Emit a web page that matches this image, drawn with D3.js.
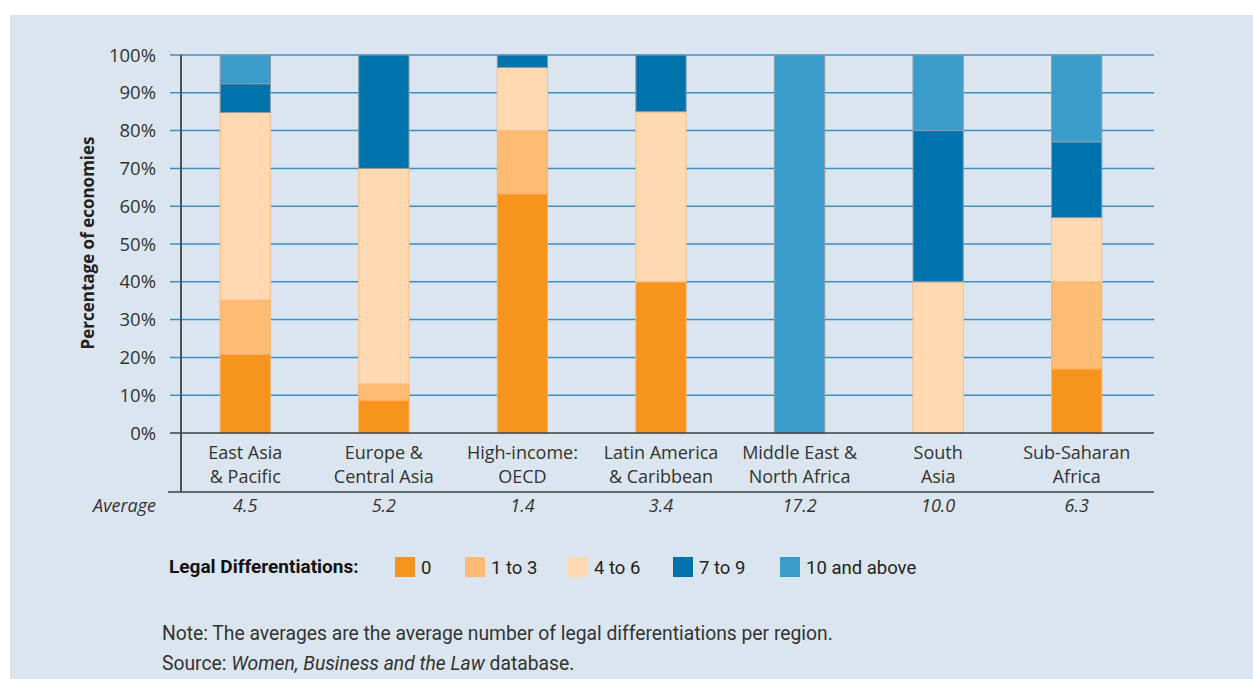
<!DOCTYPE html>
<html>
<head>
  <meta charset="UTF-8">
  <style>
    body { margin: 0; background: #fff; }
    svg { display: block; }
  </style>
</head>
<body>
<svg></svg>
<script src="https://d3js.org/d3.v7.min.js"></script>
<script>

// data (percent of economies per region)
const regions = ["East Asia|& Pacific", "Europe &|Central Asia", "High-income:|OECD",
  "Latin America|& Caribbean", "Middle East &|North Africa", "South|Asia", "Sub-Saharan|Africa"];
const averages = ["4.5", "5.2", "1.4", "3.4", "17.2", "10.0", "6.3"];
const groups = ["0", "1 to 3", "4 to 6", "7 to 9", "10 and above"];
const zero = [20.8, 8.7, 63.3, 40, 0, 0, 17.0];
const oneToThree = [14.4, 4.3, 16.7, 0, 0, 0, 23.0];
const fourToSix = [49.6, 57.0, 16.7, 45, 0, 40, 17.0];
const sevenToNine = [7.6, 30.0, 3.3, 15, 0, 40, 20.0];
const tenPlus = [7.6, 0, 0, 0, 100, 20, 23.0];
const yTicks = [0, 10, 20, 30, 40, 50, 60, 70, 80, 90, 100];

const colors = ["#f7941d", "#fdbb74", "#fed9b1", "#0072ac", "#3a9cca"];
const edges = ["#fbb26a", "#fbb26a", "#fcbf80", "#8e9aa6", "#8e9aa6"];

const width = 1253, height = 679;
const svg = d3.select("svg").attr("width", width).attr("height", height);
const font = "'Open Sans', sans-serif";
const narrow = "'Roboto', sans-serif";

// panel
svg.append("rect").attr("x", 10).attr("y", 15).attr("width", width - 10).attr("height", height - 15)
  .attr("fill", "#dae5f0");

const x = d3.scaleBand().domain(regions).range([176, 1146]).paddingInner(0.63).paddingOuter(0.315);
const y = d3.scaleLinear().domain([0, 100]).range([433, 55]);

// gridlines
svg.append("g").selectAll("line").data(yTicks.slice(1)).join("line")
  .attr("x1", 170).attr("x2", 1154)
  .attr("y1", d => y(d)).attr("y2", d => y(d))
  .attr("stroke", "#3d8fc4").attr("stroke-width", 1.5);

// y labels
svg.append("g").selectAll("text").data(yTicks).join("text")
  .attr("x", 156).attr("y", d => y(d) + 6.5)
  .attr("text-anchor", "end")
  .attr("font-family", font).attr("font-size", 18.5).attr("fill", "#333")
  .text(d => d + "%");

svg.append("text")
  .attr("transform", "translate(94,243) rotate(-90)")
  .attr("text-anchor", "middle")
  .attr("font-family", font).attr("font-size", 17).attr("font-weight", "bold").attr("fill", "#222")
  .text("Percentage of economies");

// stacked bars
const rows = regions.map((r, i) => {
  const o = { region: r };
  [zero, oneToThree, fourToSix, sevenToNine, tenPlus].forEach((s, k) => o[groups[k]] = s[i]);
  return o;
});
const stack = d3.stack().keys(groups)(rows);

svg.append("g").selectAll("g").data(stack).join("g")
  .attr("fill", (d, k) => colors[k])
  .attr("stroke", (d, k) => edges[k])
  .attr("stroke-width", 1)
  .selectAll("rect").data(d => d.filter(v => v[1] - v[0] > 0)).join("rect")
  .attr("x", d => x(d.data.region) + 0.5)
  .attr("width", x.bandwidth() - 1)
  .attr("y", d => y(d[1]))
  .attr("height", d => y(d[0]) - y(d[1]));

// axis lines
svg.append("line").attr("x1", 181).attr("x2", 181).attr("y1", 55).attr("y2", 492)
  .attr("stroke", "#4d5257").attr("stroke-width", 2);
svg.append("line").attr("x1", 170).attr("x2", 1154).attr("y1", 433).attr("y2", 433)
  .attr("stroke", "#3b3f44").attr("stroke-width", 1.5);
svg.append("line").attr("x1", 168).attr("x2", 1154).attr("y1", 492).attr("y2", 492)
  .attr("stroke", "#3b3f44").attr("stroke-width", 1.5);

// category labels
const cat = svg.append("g").selectAll("text").data(regions).join("text")
  .attr("text-anchor", "middle")
  .attr("font-family", font).attr("font-size", 18).attr("fill", "#333");
cat.each(function (d) {
  const parts = d.split("|");
  d3.select(this).selectAll("tspan").data(parts).join("tspan")
    .attr("x", x(d) + x.bandwidth() / 2)
    .attr("y", (p, i) => 459 + i * 24)
    .text(p => p);
});

// averages
svg.append("text").attr("x", 156).attr("y", 512).attr("text-anchor", "end")
  .attr("font-family", font).attr("font-size", 18).attr("font-style", "italic").attr("fill", "#333")
  .text("Average");
svg.append("g").selectAll("text").data(regions).join("text")
  .attr("x", d => x(d) + x.bandwidth() / 2).attr("y", 512)
  .attr("text-anchor", "middle")
  .attr("font-family", font).attr("font-size", 18).attr("font-style", "italic").attr("fill", "#333")
  .text((d, i) => averages[i]);

// legend
svg.append("text").attr("x", 169).attr("y", 573)
  .attr("font-family", narrow).attr("font-size", 19).attr("font-weight", "bold").attr("fill", "#111")
  .text("Legal Differentiations:");
const legX = [395, 465, 568, 673, 780];
const leg = svg.append("g").selectAll("g").data(groups).join("g")
  .attr("transform", (d, i) => `translate(${legX[i]},557)`);
leg.append("rect").attr("width", 20).attr("height", 20).attr("fill", (d, i) => colors[i]);
leg.append("text").attr("x", 26).attr("y", 17)
  .attr("font-family", narrow).attr("font-size", 18.5).attr("fill", "#222")
  .text(d => d);

// notes
svg.append("text").attr("x", 162).attr("y", 640)
  .attr("font-family", narrow).attr("font-size", 19.3).attr("fill", "#333")
  .text("Note: The averages are the average number of legal differentiations per region.");
const src = svg.append("text").attr("x", 162).attr("y", 670)
  .attr("font-family", narrow).attr("font-size", 19.3).attr("fill", "#333");
src.append("tspan").text("Source: ");
src.append("tspan").attr("font-style", "italic").text("Women, Business and the Law");
src.append("tspan").text(" database.");

</script>
</body>
</html>
